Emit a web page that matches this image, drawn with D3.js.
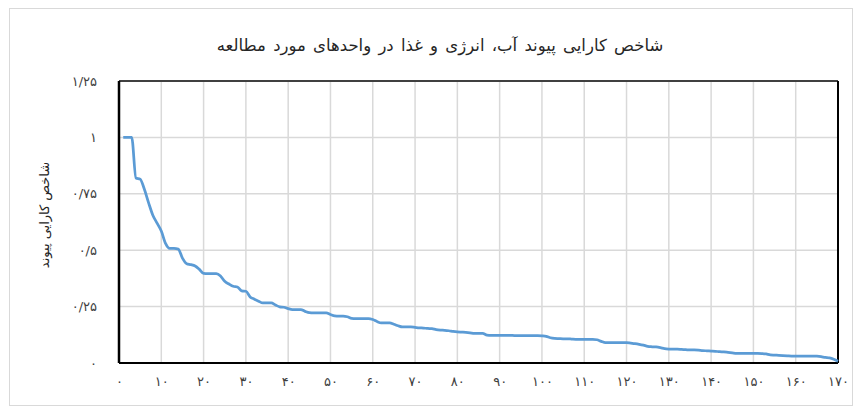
<!doctype html>
<html>
<head>
  <meta charset="utf-8">
  <script src="https://cdnjs.cloudflare.com/ajax/libs/d3/7.8.5/d3.min.js" type="text/JavaScript"></script>
  <style>
    body { margin: 0; background: #fff; }
    text { font-family: "DejaVu Sans", sans-serif; fill: #404040; }
  </style>
</head>
<body>
<svg height="412" width="860"></svg>
<script type="text/javascript">
var title = "شاخص کارایی پیوند آب، انرژی و غذا در واحدهای مورد مطالعه";
var yTitle = "شاخص کارایی پیوند";
var xTicks = [0,10,20,30,40,50,60,70,80,90,100,110,120,130,140,150,160,170];
var yTicks = [0,0.25,0.5,0.75,1,1.25];

// one value per unit, units 1..170, sorted high to low
var efficiency = [
  1.0, 1.0, 1.0, 0.82, 0.815, 0.77, 0.71, 0.655, 0.62, 0.585,
  0.53, 0.508, 0.508, 0.505, 0.465, 0.44, 0.436, 0.43, 0.415, 0.397,
  0.396, 0.396, 0.396, 0.386, 0.362, 0.35, 0.34, 0.337, 0.32, 0.318,
  0.293, 0.283, 0.274, 0.266, 0.266, 0.266, 0.257, 0.249, 0.247, 0.241,
  0.237, 0.237, 0.237, 0.229, 0.223, 0.222, 0.222, 0.222, 0.222, 0.215,
  0.209, 0.208, 0.208, 0.205, 0.198, 0.197, 0.197, 0.197, 0.197, 0.193,
  0.184, 0.178, 0.178, 0.178, 0.172, 0.165, 0.16, 0.16, 0.16, 0.158,
  0.156, 0.155, 0.153, 0.152, 0.148, 0.146, 0.145, 0.143, 0.14, 0.138,
  0.137, 0.136, 0.134, 0.131, 0.131, 0.131, 0.124, 0.123, 0.123, 0.123,
  0.122, 0.122, 0.122, 0.121, 0.121, 0.121, 0.121, 0.121, 0.121, 0.12,
  0.118, 0.112, 0.109, 0.108, 0.107, 0.107, 0.106, 0.105, 0.105, 0.105,
  0.105, 0.105, 0.103, 0.096, 0.09, 0.09, 0.09, 0.09, 0.09, 0.09,
  0.088, 0.086, 0.083, 0.079, 0.074, 0.072, 0.071, 0.068, 0.064, 0.062,
  0.061, 0.061, 0.06, 0.059, 0.058, 0.058, 0.057, 0.055, 0.054, 0.053,
  0.052, 0.05, 0.049, 0.047, 0.045, 0.043, 0.043, 0.043, 0.043, 0.043,
  0.043, 0.042, 0.04, 0.036, 0.035, 0.034, 0.033, 0.032, 0.031, 0.031,
  0.031, 0.031, 0.031, 0.031, 0.03, 0.028, 0.025, 0.023, 0.017, 0.008
];

var faDigits = "۰۱۲۳۴۵۶۷۸۹";
function toFa(n) {
  return String(n).replace(/\d/g, d => faDigits[+d]).replace(".", "/");
}

var margin = {left: 119, right: 22, top: 81, bottom: 49};
var width = 860 - margin.left - margin.right;
var height = 412 - margin.top - margin.bottom;

var x = d3.scaleLinear().domain([0,170]).range([0,width]);
var y = d3.scaleLinear().domain([0,1.25]).range([height,0]);

var svg = d3.select("svg");

// outer chart frame
svg.append("rect")
  .attr("x", 9.5).attr("y", 8.5)
  .attr("width", 843).attr("height", 397)
  .style("fill", "none")
  .style("stroke", "#d9d9d9");

svg.append("text")
  .attr("x", 440).attr("y", 51)
  .attr("text-anchor", "middle")
  .style("font-size", "16.5px")
  .style("word-spacing", "2px")
  .style("fill", "#262626")
  .text(title);

var g = svg.append("g")
  .attr("transform", "translate(" + margin.left + "," + margin.top + ")");

// grid
g.append("g").selectAll("line").data(xTicks.slice(1, -1))
  .enter().append("line")
  .attr("x1", d => x(d)).attr("x2", d => x(d))
  .attr("y1", 0).attr("y2", height)
  .style("stroke", "#d9d9d9").style("stroke-width", 1.5);

g.append("g").selectAll("line").data(yTicks.slice(1, -1))
  .enter().append("line")
  .attr("x1", 0).attr("x2", width)
  .attr("y1", d => y(d)).attr("y2", d => y(d))
  .style("stroke", "#d9d9d9").style("stroke-width", 1.5);

// plot frame
g.append("line").attr("x1", 0).attr("x2", width).attr("y1", 0).attr("y2", 0)
  .style("stroke", "#404040").style("stroke-width", 2);
g.append("line").attr("x1", width).attr("x2", width).attr("y1", 0).attr("y2", height)
  .style("stroke", "#000").style("stroke-width", 2);
g.append("line").attr("x1", 0).attr("x2", 0).attr("y1", 0).attr("y2", height)
  .style("stroke", "#000").style("stroke-width", 2.5);
g.append("line").attr("x1", 0).attr("x2", width).attr("y1", height).attr("y2", height)
  .style("stroke", "#000").style("stroke-width", 2);

// axes (labels only)
var xAxis = d3.axisBottom(x).tickValues(xTicks).tickSize(0).tickPadding(14).tickFormat(toFa);
var yAxis = d3.axisLeft(y).tickValues(yTicks).tickSize(0).tickPadding(22).tickFormat(toFa);

g.append("g").attr("transform", "translate(0," + height + ")").call(xAxis)
  .call(a => a.select(".domain").remove())
  .selectAll("text").style("font-size", "13px").style("letter-spacing", "2.5px")
  .style("font-family", "DejaVu Sans").style("fill", "#404040");

g.append("g").call(yAxis)
  .call(a => a.select(".domain").remove())
  .selectAll("text").style("font-size", "13px").style("letter-spacing", "2px")
  .style("font-family", "DejaVu Sans").style("fill", "#404040");

svg.append("text")
  .attr("transform", "translate(49,215) rotate(-90)")
  .attr("text-anchor", "middle")
  .style("font-size", "13px")
  .style("fill", "#262626")
  .text(yTitle);

var line = d3.line()
  .x((d, i) => x(i + 1))
  .y(d => y(d))
  .curve(d3.curveMonotoneX);

g.append("path")
  .datum(efficiency)
  .attr("d", line)
  .style("fill", "none")
  .style("stroke", "#5b9bd5")
  .style("stroke-width", 2.75)
  .style("stroke-linejoin", "round");
</script>
</body>
</html>
